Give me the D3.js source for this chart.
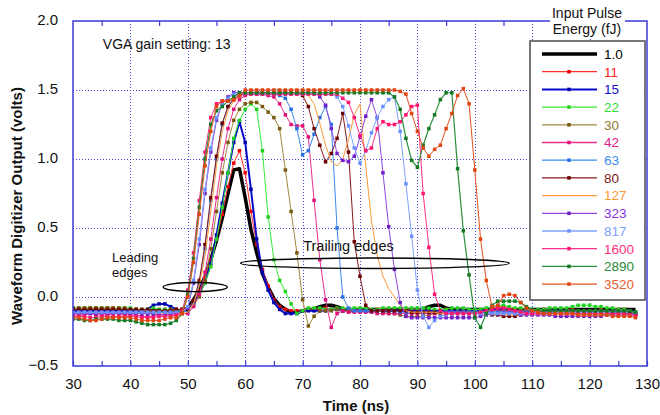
<!DOCTYPE html>
<html><head><meta charset="utf-8">
<script src="https://cdn.jsdelivr.net/npm/d3@7/dist/d3.min.js"></script>
<style>
body{margin:0;background:#fff}
text{font-family:"Liberation Sans",Arial,Helvetica,sans-serif}
</style></head><body>
<svg id="c" width="660" height="415"></svg>
<script>
// ---- data ----
const times = d3.range(30, 129); // sample times (ns), 1 ns step
const energies = ["1.0","11","15","22","30","42","63","80","127","323","817","1600","2890","3520"];

const e1_0 = [
-.10,-.10,-.10,-.10,-.10,-.10,-.10,-.10,-.10,-.10,
-.10,-.10,-.10,-.10,-.10,-.10,-.10,-.10,-.10,-.10,
-.08,-.02,.05,.15,.27,.41,.57,.75,.92,.93,
.72,.49,.32,.17,.07,-.01,-.06,-.09,-.11,-.11,
-.10,-.09,-.09,-.07,-.06,-.06,-.07,-.09,-.09,-.09,
-.09,-.09,-.09,-.09,-.09,-.09,-.09,-.09,-.09,-.09,
-.09,-.09,-.07,-.06,-.06,-.08,-.09,-.09,-.09,-.09,
-.09,-.09,-.09,-.09,-.09,-.09,-.09,-.09,-.09,-.09,
-.09,-.09,-.09,-.09,-.09,-.09,-.09,-.09,-.09,-.09,
-.09,-.09,-.09,-.09,-.09,-.09,-.09,-.09,-.09];
const e11 = [
-.08,-.08,-.09,-.08,-.08,-.09,-.08,-.08,-.10,-.10,
-.10,-.09,-.10,-.10,-.10,-.09,-.09,-.10,-.10,-.09,
-.08,-.03,.04,.14,.27,.42,.60,.80,.97,1.06,
.90,.62,.38,.20,.08,-.02,-.07,-.09,-.10,-.10,
-.10,-.09,-.09,-.09,-.08,-.09,-.09,-.10,-.10,-.09,
-.09,-.10,-.10,-.09,-.09,-.09,-.10,-.10,-.09,-.09,
-.09,-.09,-.10,-.10,-.10,-.09,-.10,-.10,-.10,-.11,
-.11,-.12,-.10,-.08,-.07,-.07,-.08,-.09,-.10,-.10,
-.10,-.10,-.09,-.09,-.10,-.10,-.09,-.09,-.10,-.10,
-.10,-.10,-.09,-.10,-.10,-.09,-.09,-.10,-.12];
const e15 = [
-.10,-.10,-.10,-.10,-.10,-.10,-.10,-.10,-.10,-.10,
-.10,-.10,-.10,-.09,-.06,-.05,-.05,-.07,-.09,-.10,
-.09,-.05,.02,.11,.24,.45,.68,.90,1.12,1.27,
1.12,.78,.42,.18,.05,-.04,-.09,-.12,-.12,-.12,
-.10,-.10,-.10,-.10,-.10,-.09,-.09,-.10,-.10,-.10,
-.10,-.10,-.10,-.10,-.10,-.10,-.10,-.10,-.10,-.10,
-.10,-.10,-.10,-.10,-.10,-.10,-.10,-.10,-.10,-.10,
-.10,-.10,-.10,-.09,-.09,-.09,-.10,-.10,-.10,-.10,
-.10,-.10,-.10,-.10,-.10,-.10,-.10,-.10,-.10,-.10,
-.10,-.10,-.10,-.10,-.10,-.10,-.10,-.10,-.11];
const e22 = [
-.08,-.08,-.08,-.08,-.08,-.08,-.08,-.09,-.08,-.08,
-.08,-.09,-.09,-.09,-.08,-.09,-.09,-.09,-.10,-.10,
-.09,-.05,.01,.10,.22,.42,.65,.90,1.15,1.28,
1.36,1.40,1.36,1.06,.58,.27,.12,.04,-.05,-.12,
-.10,-.08,-.08,-.08,-.09,-.09,-.08,-.08,-.09,-.08,
-.08,-.08,-.09,-.09,-.08,-.08,-.08,-.08,-.08,-.08,
-.08,-.08,-.08,-.09,-.09,-.09,-.08,-.08,-.08,-.09,
-.09,-.09,-.08,-.07,-.06,-.06,-.07,-.08,-.08,-.09,
-.09,-.09,-.09,-.08,-.08,-.08,-.08,-.07,-.06,-.06,
-.06,-.07,-.07,-.08,-.08,-.09,-.09,-.10,-.11];
const e30 = [
-.08,-.08,-.08,-.08,-.08,-.08,-.08,-.08,-.08,-.08,
-.09,-.09,-.10,-.10,-.10,-.10,-.10,-.09,-.09,-.09,
-.09,-.06,.00,.12,.35,.62,.90,1.12,1.28,1.36,
1.40,1.41,1.41,1.38,1.34,1.30,1.22,.92,.62,.32,
-.02,-.21,-.14,-.10,-.10,-.10,-.09,-.10,-.10,-.10,
-.10,-.10,-.10,-.10,-.11,-.12,-.12,-.13,-.14,-.14,
-.14,-.14,-.13,-.12,-.12,-.12,-.12,-.11,-.11,-.11,
-.11,-.11,-.10,-.10,-.10,-.10,-.10,-.10,-.10,-.10,
-.10,-.10,-.11,-.11,-.11,-.11,-.10,-.10,-.10,-.10,
-.10,-.10,-.10,-.10,-.11,-.11,-.11,-.11,-.12];
const e42 = [
-.13,-.13,-.13,-.12,-.13,-.13,-.13,-.12,-.12,-.13,
-.13,-.13,-.14,-.14,-.14,-.13,-.13,-.13,-.13,-.12,
-.12,-.07,.02,.18,.42,.72,1.00,1.22,1.36,1.43,
1.46,1.47,1.47,1.47,1.46,1.45,1.40,1.32,1.25,1.24,
1.24,1.16,.70,.27,-.02,-.22,-.12,-.10,-.11,-.11,
-.11,-.11,-.11,-.12,-.12,-.12,-.12,-.12,-.12,-.12,
-.12,-.12,-.12,-.12,-.11,-.11,-.11,-.11,-.11,-.12,
-.12,-.12,-.11,-.10,-.10,-.10,-.11,-.11,-.11,-.11,
-.11,-.12,-.12,-.12,-.12,-.12,-.12,-.12,-.12,-.12,
-.12,-.12,-.12,-.12,-.12,-.12,-.12,-.13,-.13];
const e63 = [
-.11,-.11,-.11,-.11,-.11,-.11,-.11,-.11,-.11,-.11,
-.11,-.11,-.11,-.12,-.12,-.11,-.11,-.11,-.11,-.11,
-.10,-.04,.10,.35,.70,1.00,1.25,1.38,1.44,1.46,
1.47,1.47,1.47,1.47,1.47,1.47,1.46,1.44,1.36,1.22,
1.03,1.06,1.18,1.30,1.38,1.25,.50,.00,-.08,-.10,
-.10,-.10,-.10,-.10,-.10,-.10,-.10,-.11,-.11,-.11,
-.11,-.11,-.11,-.11,-.11,-.11,-.11,-.11,-.11,-.11,
-.11,-.11,-.11,-.11,-.11,-.11,-.11,-.11,-.11,-.11,
-.11,-.11,-.11,-.11,-.11,-.11,-.11,-.11,-.11,-.11,
-.11,-.11,-.11,-.11,-.11,-.11,-.11,-.12,-.12];
const e80 = [
-.09,-.09,-.09,-.09,-.09,-.09,-.09,-.09,-.09,-.09,
-.09,-.09,-.09,-.09,-.10,-.10,-.10,-.10,-.09,-.09,
-.09,-.03,.12,.38,.72,1.02,1.26,1.38,1.43,1.46,
1.48,1.48,1.48,1.48,1.48,1.48,1.48,1.48,1.48,1.48,
1.46,1.38,1.22,1.10,.98,1.04,1.15,1.33,1.05,.40,
.15,-.06,-.10,-.10,-.10,-.10,-.10,-.10,-.10,-.11,
-.11,-.11,-.11,-.11,-.12,-.12,-.12,-.12,-.12,-.12,
-.12,-.12,-.12,-.13,-.13,-.14,-.14,-.14,-.13,-.12,
-.12,-.12,-.12,-.12,-.12,-.12,-.12,-.12,-.12,-.12,
-.12,-.12,-.12,-.12,-.12,-.12,-.12,-.12,-.13];
const e127 = [
-.12,-.12,-.12,-.12,-.12,-.12,-.12,-.12,-.12,-.12,
-.12,-.12,-.12,-.12,-.12,-.12,-.12,-.12,-.12,-.12,
-.11,-.05,.08,.30,.62,.95,1.20,1.35,1.42,1.45,
1.48,1.48,1.48,1.48,1.48,1.48,1.48,1.48,1.48,1.48,
1.48,1.46,1.40,1.26,1.10,.98,.95,1.00,1.14,1.32,
1.40,.95,.55,.30,.15,.06,.00,-.06,-.10,-.11,
-.11,-.11,-.11,-.11,-.12,-.12,-.12,-.12,-.12,-.12,
-.12,-.12,-.12,-.12,-.12,-.13,-.13,-.13,-.13,-.13,
-.13,-.13,-.13,-.13,-.13,-.13,-.13,-.13,-.13,-.13,
-.13,-.13,-.13,-.13,-.13,-.13,-.13,-.13,-.14];
const e323 = [
-.12,-.12,-.12,-.12,-.12,-.12,-.12,-.12,-.12,-.12,
-.12,-.12,-.12,-.12,-.12,-.13,-.13,-.12,-.12,-.11,
-.08,.10,.38,.75,1.05,1.28,1.40,1.45,1.48,1.48,
1.48,1.48,1.48,1.48,1.48,1.48,1.48,1.48,1.48,1.48,
1.48,1.48,1.48,1.45,1.39,1.22,1.04,.99,.98,1.02,
1.16,1.31,1.43,1.30,.90,.51,.20,-.04,-.14,-.15,
-.15,-.15,-.15,-.15,-.15,-.15,-.15,-.15,-.15,-.15,
-.15,-.14,-.13,-.12,-.12,-.12,-.12,-.12,-.13,-.13,
-.13,-.13,-.13,-.13,-.14,-.14,-.14,-.14,-.14,-.14,
-.14,-.14,-.14,-.13,-.13,-.13,-.13,-.13,-.13];
const e817 = [
-.11,-.11,-.11,-.11,-.11,-.11,-.11,-.11,-.11,-.11,
-.11,-.11,-.11,-.11,-.11,-.11,-.11,-.11,-.11,-.11,
-.07,.12,.42,.78,1.08,1.30,1.40,1.44,1.47,1.47,
1.47,1.47,1.47,1.47,1.47,1.47,1.47,1.47,1.47,1.47,
1.47,1.47,1.47,1.47,1.47,1.47,1.45,1.38,1.24,1.08,
.97,1.06,1.19,1.30,1.38,1.43,1.45,1.20,.82,.44,
.05,-.14,-.22,-.17,-.14,-.13,-.12,-.12,-.12,-.12,
-.12,-.12,-.12,-.12,-.12,-.12,-.12,-.12,-.12,-.12,
-.12,-.12,-.12,-.12,-.12,-.12,-.12,-.12,-.12,-.12,
-.12,-.12,-.12,-.12,-.12,-.12,-.12,-.13,-.13];
const e1600 = [
-.14,-.14,-.14,-.15,-.15,-.14,-.14,-.14,-.14,-.14,
-.14,-.14,-.15,-.15,-.15,-.14,-.14,-.14,-.13,-.10,
.05,.32,.70,1.05,1.30,1.40,1.42,1.42,1.43,1.46,
1.47,1.47,1.47,1.47,1.47,1.47,1.47,1.47,1.47,1.47,
1.47,1.47,1.47,1.47,1.47,1.47,1.47,1.44,1.41,1.30,
1.17,1.06,1.08,1.22,1.27,1.25,1.25,1.27,1.32,1.38,
1.39,.75,.36,.02,-.10,-.12,-.12,-.12,-.12,-.12,
-.12,-.11,-.10,-.09,-.08,-.08,-.09,-.10,-.11,-.12,
-.12,-.12,-.12,-.12,-.12,-.12,-.12,-.12,-.12,-.12,
-.12,-.12,-.12,-.12,-.12,-.12,-.12,-.13,-.13];
const e2890 = [
-.16,-.16,-.17,-.17,-.16,-.16,-.16,-.16,-.17,-.17,
-.17,-.18,-.19,-.20,-.20,-.20,-.20,-.19,-.17,-.12,
.02,.28,.65,1.00,1.25,1.35,1.38,1.42,1.45,1.48,
1.48,1.48,1.48,1.48,1.48,1.48,1.48,1.48,1.48,1.48,
1.48,1.48,1.48,1.48,1.48,1.48,1.48,1.48,1.48,1.48,
1.48,1.48,1.48,1.48,1.48,1.48,1.45,1.36,1.15,.99,
.94,1.10,1.22,1.32,1.43,1.48,1.48,.93,.48,.16,
-.15,-.22,-.12,-.06,-.03,-.03,-.03,-.03,-.04,-.07,
-.09,-.10,-.10,-.10,-.10,-.10,-.10,-.10,-.10,-.10,
-.10,-.10,-.10,-.10,-.10,-.10,-.10,-.10,-.11];
const e3520 = [
-.15,-.15,-.16,-.17,-.17,-.16,-.15,-.15,-.15,-.15,
-.15,-.16,-.17,-.17,-.17,-.17,-.16,-.15,-.15,-.12,
.00,.25,.60,.95,1.20,1.38,1.42,1.42,1.43,1.46,
1.50,1.50,1.50,1.50,1.50,1.50,1.50,1.50,1.50,1.50,
1.50,1.50,1.50,1.50,1.50,1.50,1.50,1.50,1.50,1.50,
1.50,1.50,1.50,1.50,1.50,1.50,1.50,1.49,1.47,1.33,
1.20,1.08,1.02,1.07,1.10,1.22,1.33,1.46,1.51,1.40,
.92,.42,.12,-.07,-.06,.01,.02,.01,-.04,-.08,
-.10,-.11,-.12,-.12,-.12,-.12,-.12,-.12,-.13,-.13,
-.13,-.13,-.13,-.13,-.14,-.14,-.14,-.14,-.15];

const seriesValues = [e1_0,e11,e15,e22,e30,e42,e63,e80,e127,e323,e817,e1600,e2890,e3520];
const lineColors   = ["#000000","#ff3030","#0a0acc","#33ee33","#a08840","#e8308e","#3a8af0","#8a1818","#ff9a3c","#9045e0","#7ea4ff","#ff2e86","#2a8f3a","#e6521e"];
const markerColors = ["#000000","#ee0000","#0000aa","#22d022","#7a5a10","#e0107a","#2a70e0","#6a0000","#ff9a3c","#7020c8","#6a90ff","#ff1470","#147a24","#e04410"];
const labelColors  = ["#000000","#ff2020","#1010cc","#33dd33","#8a7a30","#e0208a","#3a8af0","#802020","#ff9933","#8a30e0","#7ea0ff","#ff3080","#2a8a3a","#e86030"];
const lineWidths   = [3.5,1,2,1,1,1,1,1,1,1,1,1,1.2,1];
const hasMarkers   = [false,true,true,true,true,true,true,true,false,true,true,true,true,true];

const xTicks = [30,40,50,60,70,80,90,100,110,120,130];
const xMinor = [35,45,55,65,75,85,95,105,115,125];
const yTicks = [-0.5,0.0,0.5,1.0,1.5,2.0];
const xGrid = [40,50,60,70,80,90,100,110,120];
const yGrid = [0.0,0.5,1.0,1.5];

// ---- layout ----
const svg = d3.select("#c");
const L=73, R=647, T=21, B=366;
const x = d3.scaleLinear().domain([30,130]).range([L,R]);
const y = d3.scaleLinear().domain([-0.5,2.0]).range([B,T]);
const frameColor = "#3a3ad8";

svg.append("rect").attr("width",660).attr("height",415).attr("fill","#fff");

// grid
const grid = svg.append("g").attr("stroke","#4848e0").attr("stroke-width",1).attr("stroke-dasharray","1,2");
grid.selectAll(".gx").data(xGrid).join("line")
  .attr("x1",d=>Math.round(x(d))+0.5).attr("x2",d=>Math.round(x(d))+0.5).attr("y1",T).attr("y2",B);
grid.selectAll(".gy").data(yGrid).join("line")
  .attr("y1",d=>Math.round(y(d))+0.5).attr("y2",d=>Math.round(y(d))+0.5).attr("x1",L).attr("x2",R);

// axes
const fmtY = d3.format(".1f");
const ax = svg.append("g").attr("transform",`translate(0,${B})`)
  .call(d3.axisBottom(x).tickValues(xTicks).tickSizeInner(-5).tickSizeOuter(0).tickPadding(12).tickFormat(d3.format("d")));
const axTop = svg.append("g").attr("transform",`translate(0,${T})`)
  .call(d3.axisTop(x).tickValues(xMinor).tickSizeInner(-5).tickSizeOuter(0).tickFormat(""));
const axBotMinor = svg.append("g").attr("transform",`translate(0,${B})`)
  .call(d3.axisBottom(x).tickValues(xMinor).tickSizeInner(-5).tickSizeOuter(0).tickFormat(""));
const ay = svg.append("g").attr("transform",`translate(${L},0)`)
  .call(d3.axisLeft(y).tickValues(yTicks).tickSizeInner(0).tickSizeOuter(0).tickPadding(15).tickFormat(fmtY));
[ax,axTop,axBotMinor,ay].forEach(g=>{
  g.select(".domain").remove();
  g.selectAll("line").attr("stroke",frameColor).attr("stroke-width",1.2);
  g.selectAll("text").attr("font-size",15).attr("fill","#111").attr("font-family",'"Liberation Sans",Arial,sans-serif');
});
ay.selectAll("text").attr("dy","0.22em");

// clip
svg.append("clipPath").attr("id","clip").append("rect").attr("x",L).attr("y",T).attr("width",R-L).attr("height",B-T);
const plot = svg.append("g").attr("clip-path","url(#clip)");

const line = d3.line().x((d,i)=>x(times[i])).y(d=>y(d));
seriesValues.forEach((vals,k)=>{
  const g = plot.append("g");
  g.append("path").datum(vals).attr("d",line).attr("fill","none")
    .attr("stroke",lineColors[k]).attr("stroke-width",lineWidths[k]).attr("stroke-linejoin","round");
  if(hasMarkers[k]){
    g.selectAll("rect").data(vals).join("rect")
      .attr("x",(d,i)=>x(times[i])-1.75).attr("y",d=>y(d)-1.75)
      .attr("width",3.5).attr("height",3.5).attr("fill",markerColors[k]);
  }
});

// frame
svg.append("rect").attr("x",L).attr("y",T).attr("width",R-L).attr("height",B-T)
  .attr("fill","none").attr("stroke",frameColor).attr("stroke-width",1.5);

// annotations
const ann = svg.append("g");
ann.append("text").attr("x",x(35.2)).attr("y",y(1.80)).attr("font-size",14).attr("fill","#111").text("VGA gain setting: 13");
ann.append("text").attr("x",x(36.8)).attr("y",y(0.255)).attr("font-size",13).attr("fill","#111").text("Leading");
ann.append("text").attr("x",x(36.8)).attr("y",y(0.145)).attr("font-size",13).attr("fill","#111").text("edges");
ann.append("text").attr("x",x(70.1)).attr("y",y(0.33)).attr("font-size",14.5).attr("fill","#111").text("Trailing edges");
ann.append("ellipse").attr("cx",x(51.3)).attr("cy",y(0.072)).attr("rx",x(51.3+5.6)-x(51.3)).attr("ry",y(0)-y(0.033))
  .attr("fill","none").attr("stroke","#000").attr("stroke-width",1.4);
ann.append("ellipse").attr("cx",x(82.6)).attr("cy",y(0.245)).attr("rx",x(82.6+23.4)-x(82.6)).attr("ry",y(0)-y(0.038))
  .attr("fill","none").attr("stroke","#000").attr("stroke-width",1.4);

// axis titles
svg.append("text").attr("x",(L+R)/2-4).attr("y",411).attr("text-anchor","middle")
  .attr("font-size",15).attr("font-weight","bold").attr("fill","#111").text("Time (ns)");
svg.append("text").attr("transform","translate(22,206) rotate(-90)").attr("text-anchor","middle")
  .attr("font-size",15).attr("font-weight","bold").attr("fill","#111").text("Waveform Digitizer Output (volts)");

// legend
const lg = svg.append("g");
lg.append("rect").attr("x",550).attr("y",0).attr("width",75).attr("height",35).attr("fill","#fff");
const legendTitle = ["Input Pulse","Energy (fJ)"];
const lt = lg.append("text").attr("x",587).attr("y",18).attr("text-anchor","middle").attr("font-size",14).attr("fill","#111");
legendTitle.forEach((t,i)=>lt.append("tspan").attr("x",587).attr("dy",i?15.5:0).text(t));
lg.append("rect").attr("x",530).attr("y",41).attr("width",115).attr("height",259)
  .attr("fill","#fff").attr("stroke","#555").attr("stroke-width",1.6);
const rowY = i => 54 + i*17.7;
energies.forEach((lab,k)=>{
  lg.append("line").attr("x1",542).attr("x2",597).attr("y1",rowY(k)).attr("y2",rowY(k))
    .attr("stroke",lineColors[k]).attr("stroke-width",k===0?3.5:(k===2?2:1.3));
  if(hasMarkers[k]) lg.append("rect").attr("x",569-1.75).attr("y",rowY(k)-1.75).attr("width",3.5).attr("height",3.5).attr("fill",markerColors[k]);
  lg.append("text").attr("x",604).attr("y",rowY(k)).attr("dy","0.36em").attr("font-size",13.5)
    .attr("fill",labelColors[k]).text(lab);
});
</script></body></html>
